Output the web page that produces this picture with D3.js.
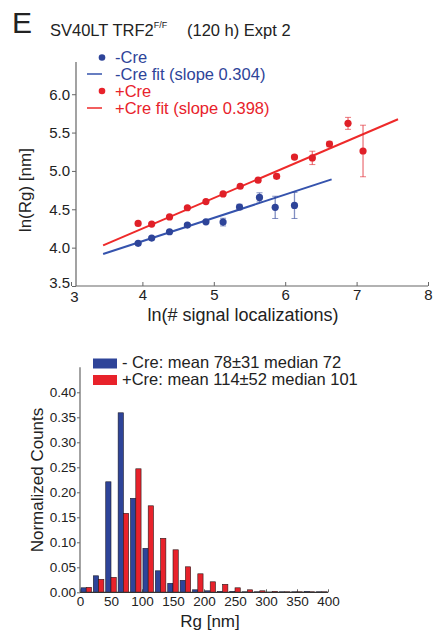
<!DOCTYPE html>
<html>
<head>
<meta charset="utf-8">
<script src="https://cdn.jsdelivr.net/npm/d3@7"></script>
<style>
  body { margin: 0; background: #fff; }
  svg text { font-family: "Liberation Sans", Arial, Helvetica, sans-serif; }
</style>
</head>
<body>
<div id="viz-container"></div>
<script>
// top panel: ln(Rg) vs ln(# localizations)
let blueX = [3.94, 4.13, 4.38, 4.63, 4.89, 5.13, 5.36, 5.64, 5.86, 6.13];
let blueY = [4.056, 4.125, 4.207, 4.294, 4.337, 4.333, 4.53, 4.655, 4.525, 4.55];
let blueErr = [0.01, 0.01, 0.01, 0.015, 0.015, 0.05, 0.035, 0.06, 0.145, 0.17];

let redX = [3.94, 4.13, 4.38, 4.63, 4.89, 5.13, 5.37, 5.62, 5.88, 6.13, 6.38, 6.62, 6.88, 7.09];
let redY = [4.316, 4.307, 4.40, 4.52, 4.60, 4.70, 4.80, 4.88, 4.93, 5.18, 5.17, 5.35, 5.62, 5.26];
let redErr = [0.01, 0.01, 0.01, 0.01, 0.01, 0.01, 0.015, 0.015, 0.03, 0.025, 0.087, 0.035, 0.078, 0.336];

// fits: [slope, intercept, xStart, xEnd]
let blueFit = [0.304, 2.868, 3.45, 6.65];
let redFit = [0.398, 2.657, 3.45, 7.58];

let topXTicks = [3, 4, 5, 6, 7, 8];
let topYTicks = [3.5, 4.0, 4.5, 5.0, 5.5, 6.0];

// bottom panel: histogram of Rg
let binCenters = [10, 30, 50, 70, 90, 110, 130, 150, 170, 190, 210, 230, 250, 270, 290, 310, 330, 350, 370, 390];
let blueHist = [0.009, 0.033, 0.221, 0.359, 0.188, 0.088, 0.043, 0.018, 0.024, 0.005, 0.003, 0.002, 0.002, 0.001, 0.001, 0.0005, 0.001, 0.001, 0.002, 0.001];
let redHist = [0.010, 0.026, 0.030, 0.158, 0.247, 0.173, 0.108, 0.085, 0.051, 0.037, 0.021, 0.016, 0.009, 0.005, 0.003, 0.002, 0.001, 0.001, 0.001, 0.001];
let histXTicks = [0, 50, 100, 150, 200, 250, 300, 350, 400];
let histYTicks = [0, 0.05, 0.10, 0.15, 0.20, 0.25, 0.30, 0.35, 0.40];

let blue = "#2e4499";
let red = "#e8222b";
let axisCol = "#666";
let textCol = "#222";

let viz = d3.select("#viz-container")
  .append("svg")
    .attr("width", 435)
    .attr("height", 637)
;

// ---- title ----
viz.append("text").attr("x", 12).attr("y", 33)
  .attr("font-size", 30).attr("fill", textCol).text("E");
let title = viz.append("text").attr("x", 50).attr("y", 36)
  .attr("font-size", 16.5).attr("fill", textCol);
title.append("tspan").text("SV40LT TRF2");
title.append("tspan").attr("font-size", 9).attr("dy", -8).text("F/F");
title.append("tspan").attr("x", 187).attr("dy", 8).text("(120 h) Expt 2");

// ---- top scatter ----
let x = d3.scaleLinear().domain([3, 8]).range([71, 428]);
let y = d3.scaleLinear().domain([3.5, 6.42]).range([286, 62]);

let xAxis = viz.append("g")
  .attr("transform", "translate(0," + y(3.5) + ")")
  .call(d3.axisBottom(x).tickValues(topXTicks).tickFormat(d3.format("d"))
    .tickSizeInner(-4).tickSizeOuter(0).tickPadding(3));
xAxis.select(".domain").remove();
xAxis.selectAll("line").attr("stroke", axisCol);
xAxis.selectAll("text").attr("font-size", 15).attr("fill", textCol)
  .attr("font-family", "Liberation Sans, Arial, sans-serif");
// nudge the "3" so it sits under the corner like the original
xAxis.selectAll("text").filter(function(d) { return d === 3; })
  .attr("dx", 3).attr("y", 5);
viz.append("line")
  .attr("x1", x(3.07)).attr("x2", x(8))
  .attr("y1", y(3.5)).attr("y2", y(3.5))
  .attr("stroke", axisCol).attr("stroke-width", 1.2);

let yAxis = viz.append("g")
  .attr("transform", "translate(" + x(3.07) + ",0)")
  .call(d3.axisLeft(y).tickValues(topYTicks).tickFormat(d3.format(".1f"))
    .tickSizeInner(4).tickSizeOuter(0).tickPadding(2));
yAxis.select(".domain").remove();
yAxis.selectAll("line").attr("stroke", axisCol);
yAxis.selectAll("text").attr("font-size", 15).attr("fill", textCol)
  .attr("font-family", "Liberation Sans, Arial, sans-serif");
yAxis.selectAll("text").filter(function(d) { return d === 3.5; })
  .attr("dy", "0.1em");
viz.append("line")
  .attr("x1", x(3.07)).attr("x2", x(3.07))
  .attr("y1", y(3.5)).attr("y2", y(6.42))
  .attr("stroke", axisCol).attr("stroke-width", 1.2);

viz.append("text")
  .attr("transform", "translate(31," + y(4.75) + ") rotate(-90)")
  .attr("text-anchor", "middle").attr("font-size", 17).attr("fill", textCol)
  .text("ln(Rg) [nm]");
viz.append("text")
  .attr("x", 243).attr("y", 321)
  .attr("text-anchor", "middle").attr("font-size", 18).attr("fill", textCol)
  .text("ln(# signal localizations)");

// fit lines
function drawFit(fit, col) {
  viz.append("line")
    .attr("x1", x(fit[2])).attr("y1", y(fit[1] + fit[0] * fit[2]))
    .attr("x2", x(fit[3])).attr("y2", y(fit[1] + fit[0] * fit[3]))
    .attr("stroke", col).attr("stroke-width", 2);
}
drawFit(blueFit, "#3553ad");
drawFit(redFit, "#ee2a2a");

// error bars + points
function drawPoints(xs, ys, errs, col) {
  let g = viz.append("g");
  xs.forEach(function(xv, i) {
    let top = y(ys[i] + errs[i]);
    let bot = y(ys[i] - errs[i]);
    g.append("line").attr("x1", x(xv)).attr("x2", x(xv))
      .attr("y1", top).attr("y2", bot)
      .attr("stroke", col).attr("stroke-opacity", 0.6).attr("stroke-width", 1.3);
    [top, bot].forEach(function(yy) {
      g.append("line").attr("x1", x(xv) - 3).attr("x2", x(xv) + 3)
        .attr("y1", yy).attr("y2", yy)
        .attr("stroke", col).attr("stroke-opacity", 0.6).attr("stroke-width", 1);
    });
  });
  g.selectAll("circle")
    .data(xs)
    .enter()
    .append("circle")
      .attr("cx", function(d) { return x(d); })
      .attr("cy", function(d, i) { return y(ys[i]); })
      .attr("r", 3.6)
      .attr("fill", col)
  ;
}
drawPoints(blueX, blueY, blueErr, blue);
drawPoints(redX, redY, redErr, "#e02028");

// legend top
viz.append("circle").attr("cx", 102).attr("cy", 57.5).attr("r", 3.3).attr("fill", blue);
viz.append("text").attr("x", 115).attr("y", 63).attr("font-size", 16.5).attr("fill", blue).text("-Cre");
viz.append("line").attr("x1", 87).attr("x2", 102).attr("y1", 74).attr("y2", 74)
  .attr("stroke", "#3553ad").attr("stroke-width", 1.5);
viz.append("text").attr("x", 115).attr("y", 80).attr("font-size", 16.5).attr("fill", blue).text("-Cre fit (slope 0.304)");
viz.append("circle").attr("cx", 102).attr("cy", 91).attr("r", 3.3).attr("fill", red);
viz.append("text").attr("x", 115).attr("y", 97).attr("font-size", 16.5).attr("fill", red).text("+Cre");
viz.append("line").attr("x1", 87).attr("x2", 102).attr("y1", 108).attr("y2", 108)
  .attr("stroke", "#ee2a2a").attr("stroke-width", 1.5);
viz.append("text").attr("x", 115).attr("y", 114).attr("font-size", 16.5).attr("fill", red).text("+Cre fit (slope 0.398)");

// ---- bottom histogram ----
let hx = d3.scaleLinear().domain([0, 400]).range([80, 328]);
let hy = d3.scaleLinear().domain([0, 0.45]).range([592.3, 367.3]);
let halfW = 8.5;

let hxAxis = viz.append("g")
  .attr("transform", "translate(0," + hy(0) + ")")
  .call(d3.axisBottom(hx).tickValues(histXTicks).tickFormat(d3.format("d"))
    .tickSizeInner(-3).tickSizeOuter(0).tickPadding(4));
hxAxis.select(".domain").remove();
hxAxis.selectAll("line").attr("stroke", axisCol);
hxAxis.selectAll("text").attr("font-size", 13.5).attr("fill", textCol)
  .attr("font-family", "Liberation Sans, Arial, sans-serif");

let hyAxis = viz.append("g")
  .attr("transform", "translate(" + hx(0) + ",0)")
  .call(d3.axisLeft(hy).tickValues(histYTicks).tickFormat(d3.format(".2f"))
    .tickSizeInner(3).tickSizeOuter(0).tickPadding(1));
hyAxis.select(".domain").remove();
hyAxis.selectAll("line").attr("stroke", axisCol);
hyAxis.selectAll("text").attr("font-size", 13.5).attr("fill", textCol)
  .attr("font-family", "Liberation Sans, Arial, sans-serif");

viz.selectAll(".blueBar")
  .data(binCenters)
  .enter()
  .append("rect")
    .attr("class", "blueBar")
    .attr("x", function(d) { return hx(d - halfW); })
    .attr("width", function(d) { return hx(d) - hx(d - halfW); })
    .attr("y", function(d, i) { return hy(blueHist[i]); })
    .attr("height", function(d, i) { return hy(0) - hy(blueHist[i]); })
    .attr("fill", blue)
    .attr("stroke", "#1a1a2a").attr("stroke-width", 0.6)
;
viz.selectAll(".redBar")
  .data(binCenters)
  .enter()
  .append("rect")
    .attr("class", "redBar")
    .attr("x", function(d) { return hx(d); })
    .attr("width", function(d) { return hx(d + halfW) - hx(d); })
    .attr("y", function(d, i) { return hy(redHist[i]); })
    .attr("height", function(d, i) { return hy(0) - hy(redHist[i]); })
    .attr("fill", red)
    .attr("stroke", "#2a1a1a").attr("stroke-width", 0.6)
;

viz.append("line")
  .attr("x1", hx(0)).attr("x2", hx(400)).attr("y1", hy(0)).attr("y2", hy(0))
  .attr("stroke", "#333").attr("stroke-width", 1.2);
viz.append("line")
  .attr("x1", hx(0)).attr("x2", hx(0)).attr("y1", hy(0)).attr("y2", hy(0.45))
  .attr("stroke", axisCol).attr("stroke-width", 1.2);

viz.append("text")
  .attr("transform", "translate(43,480) rotate(-90)")
  .attr("text-anchor", "middle").attr("font-size", 17).attr("fill", textCol)
  .text("Normalized Counts");
viz.append("text")
  .attr("x", 210).attr("y", 627)
  .attr("text-anchor", "middle").attr("font-size", 17).attr("fill", textCol)
  .text("Rg [nm]");

// legend bottom
viz.append("rect").attr("x", 93).attr("y", 358.5).attr("width", 24).attr("height", 10).attr("fill", blue);
viz.append("text").attr("x", 122).attr("y", 367.5).attr("font-size", 16.5).attr("fill", textCol)
  .text("- Cre: mean 78±31 median 72");
viz.append("rect").attr("x", 93).attr("y", 375).attr("width", 24).attr("height", 10).attr("fill", red);
viz.append("text").attr("x", 122).attr("y", 384.5).attr("font-size", 16.5).attr("fill", textCol)
  .text("+Cre: mean 114±52 median 101");
</script>
</body>
</html>
